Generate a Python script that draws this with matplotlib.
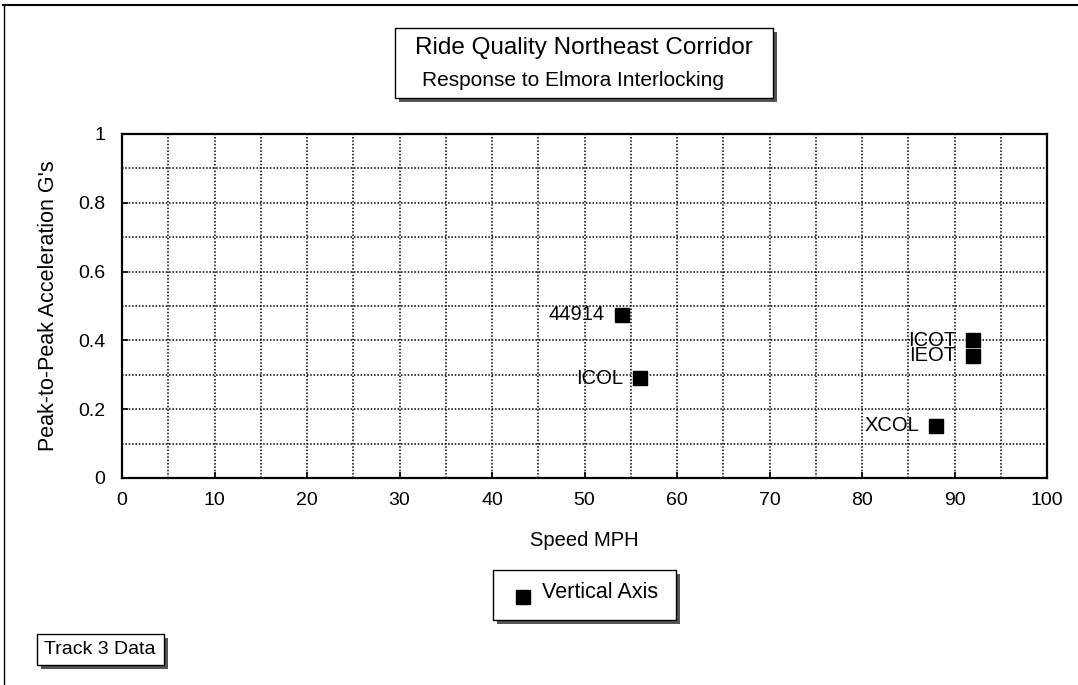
import matplotlib
matplotlib.use("Agg")
import matplotlib.pyplot as plt
from matplotlib.patches import Rectangle
import numpy as np

plt.rcParams['font.family'] = ['Liberation Sans', 'DejaVu Sans']

speed = [54, 56, 92, 92, 88]
accel = [0.475, 0.29, 0.40, 0.355, 0.152]
labels = ["44914", "ICOL", "ICOT", "IEOT", "XCOL"]
series_name = "Vertical Axis"
title = "Ride Quality Northeast Corridor"
subtitle = "Response to Elmora Interlocking"
xlabel = "Speed MPH"
ylabel = "Peak-to-Peak Acceleration G's"
note = "Track 3 Data"
xticks = [0, 10, 20, 30, 40, 50, 60, 70, 80, 90, 100]
yticks = [0, 0.2, 0.4, 0.6, 0.8, 1]
ytick_labels = ["0", "0.2", "0.4", "0.6", "0.8", "1"]

W, H = 1078, 685
fig = plt.figure(figsize=(W / 100, H / 100), dpi=100)
fig.patch.set_facecolor("white")


def px(x, y):
    return x / W, 1 - y / H


def shadow_box(x0, y0, x1, y1, sh=4):
    fx0, fy1 = px(x0, y1)
    fw, fh = (x1 - x0) / W, (y1 - y0) / H
    fig.patches.append(Rectangle((fx0 + sh / W, fy1 - sh / H), fw, fh,
                                 transform=fig.transFigure, facecolor="#555555",
                                 edgecolor="none", zorder=1))
    fig.patches.append(Rectangle((fx0, fy1), fw, fh, transform=fig.transFigure,
                                 facecolor="white", edgecolor="black", lw=1.0, zorder=2))


# outer frame lines (top & left)
fig.add_artist(plt.Line2D([3 / W, 1], [1 - 5 / H, 1 - 5 / H], transform=fig.transFigure,
                          color="black", lw=1.5))
fig.add_artist(plt.Line2D([4 / W, 4 / W], [0, 1 - 5 / H], transform=fig.transFigure,
                          color="black", lw=1.0))

ax = fig.add_axes([122 / W, 1 - 478 / H, (1047 - 122) / W, (478 - 134) / H])
ax.set_xlim(0, 100)
ax.set_ylim(0, 1)
ax.set_xticks(np.arange(0, 101, 5), minor=True)
ax.set_yticks(np.arange(0, 1.01, 0.1), minor=True)
ax.set_xticks(xticks)
ax.set_yticks(yticks)
ax.set_yticklabels(ytick_labels)
ax.grid(True, which="both", color="black", linestyle=(0, (1, 1.2)), lw=1.1)
ax.tick_params(which="major", direction="in", length=4, width=1.2, labelsize=14, pad=10)
ax.tick_params(axis="y", which="major", pad=12)
ax.tick_params(which="minor", length=0)
for s in ax.spines.values():
    s.set_linewidth(1.6)
    s.set_color("black")

ax.plot(speed, accel, linestyle="none", marker="s", ms=10, color="black",
        label=series_name, zorder=5, clip_on=False)
for x, y, t in zip(speed, accel, labels):
    ax.annotate(t, (x, y), xytext=(-12, 0), textcoords="offset points",
                ha="right", va="center", fontsize=14.5, zorder=6)

ax.set_xlabel(xlabel, fontsize=14.5, labelpad=16)
ax.set_ylabel(ylabel, fontsize=15.5, labelpad=14)

# title box
shadow_box(395, 28, 773, 98)
fig.text(*px(584, 48), title, ha="center", va="center", fontsize=17.5, zorder=3)
fig.text(*px(573, 80), subtitle, ha="center", va="center", fontsize=15, zorder=3)

# legend box
shadow_box(493, 570, 676, 620)
fig.add_artist(plt.Line2D([523 / W], [1 - 597 / H], transform=fig.transFigure,
                          marker="s", ms=10, color="black", linestyle="none", zorder=3))
fig.text(*px(542, 592), series_name, ha="left", va="center", fontsize=15.5, zorder=3)

# note box
shadow_box(37, 634, 164, 665)
fig.text(*px(100, 650), note, ha="center", va="center", fontsize=14, zorder=3)

fig.savefig("out.png", dpi=100, facecolor="white")
